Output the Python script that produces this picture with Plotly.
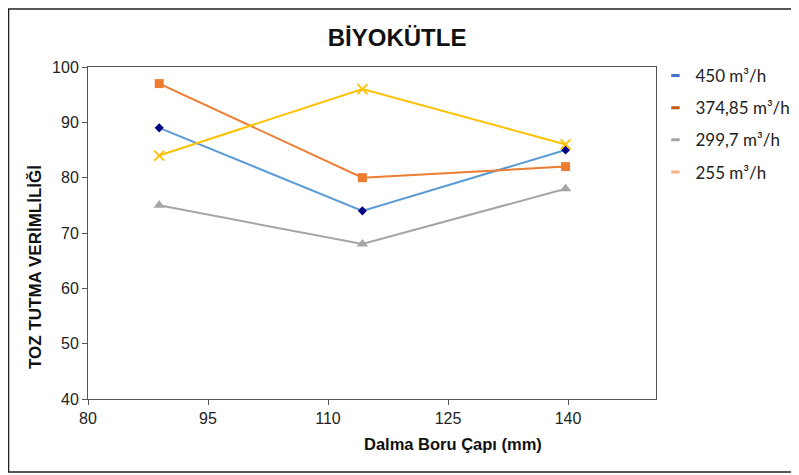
import plotly.graph_objects as go

diameters = [88.9, 114.3, 139.7]
series_names = ["450 m³/h", "374,85 m³/h", "299,7 m³/h", "255 m³/h"]
s450 = [89, 74, 85]
s374 = [97, 80, 82]
s299 = [75, 68, 78]
s255 = [84, 96, 86]
x_ticks = [80, 95, 110, 125, 140]
y_ticks = [40, 50, 60, 70, 80, 90, 100]

line_colors = ["#5b9bd5", "#ed7d31", "#a5a5a5", "#ffc000"]
legend_colors = ["#4472c4", "#c55a11", "#a5a5a5", "#f4b183"]
marker_colors = ["#000080", "#ed7d31", "#a5a5a5", "#ffc000"]
symbols = ["diamond", "square", "triangle-up", "x-thin-open"]
sizes = [7, 9, 10, 10]

fig = go.Figure()
for name, vals, lc, mc, sym, sz in zip(series_names, [s450, s374, s299, s255],
                                       line_colors, marker_colors, symbols, sizes):
    marker = dict(symbol=sym, size=sz, color=mc)
    if sym == "x-thin-open":
        marker["line"] = dict(color=mc, width=1.8)
    fig.add_trace(go.Scatter(x=diameters, y=vals, mode="lines+markers", name=name,
                             line=dict(color=lc, width=2), marker=marker, showlegend=False))

for i, (name, lc) in enumerate(zip(series_names, legend_colors)):
    fig.add_trace(go.Scatter(x=[None], y=[None], mode="markers", name=name,
                             legendgroup=f"g{i}",
                             marker=dict(symbol="line-ew", size=6, color=lc,
                                         line=dict(color=lc, width=3))))

font_family = "Liberation Sans, Arial"
axis_common = dict(showline=True, linecolor="#555", linewidth=1, mirror=True,
                   ticks="outside", ticklen=5, tickcolor="#555", showgrid=False,
                   zeroline=False,
                   tickfont=dict(family=font_family, size=16, color="#222"))

fig.update_xaxes(range=[80, 151], tickvals=x_ticks, **axis_common)
fig.update_yaxes(range=[40, 100], tickvals=y_ticks, **axis_common)

fig.add_annotation(text="<b>Dalma Boru Çapı (mm)</b>", xref="paper", yref="paper",
                   x=0.643, y=-0.1355, xanchor="center", yanchor="middle", showarrow=False,
                   font=dict(family=font_family, size=16.5, color="#111"))
fig.add_annotation(text="<b>TOZ TUTMA VERİMLİLİĞİ</b>", xref="paper", yref="paper",
                   x=-0.0915, y=0.3976, xanchor="center", yanchor="middle", showarrow=False,
                   textangle=-90,
                   font=dict(family=font_family, size=17, color="#111"))

fig.add_shape(type="rect", xref="paper", yref="paper", x0=-0.1399, x1=1.28,
              y0=-0.2199, y1=1.1747, line=dict(color="#222", width=1.5), layer="below")

fig.update_layout(
    width=799, height=475,
    margin=dict(l=80, r=151, t=59, b=84, autoexpand=False),
    paper_bgcolor="white", plot_bgcolor="white",
    title=dict(text="<b>BİYOKÜTLE</b>", x=0.487, xanchor="center", y=0.937, yanchor="middle",
               font=dict(family=font_family, size=24, color="#111")),
    legend=dict(x=0.999, xanchor="left", y=1.027, yanchor="top", itemwidth=30,
                tracegroupgap=7, bgcolor="rgba(0,0,0,0)",
                font=dict(family="Lato, Noto Sans", size=17, color="#222")),
)

fig.write_html("out.html")
